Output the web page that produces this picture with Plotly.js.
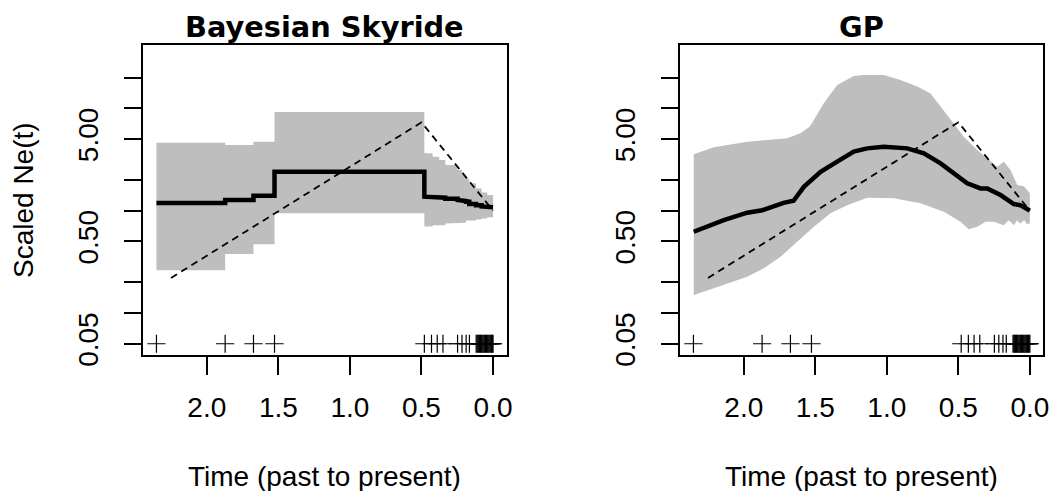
<!DOCTYPE html>
<html>
<head>
<meta charset="utf-8">
<script src="https://cdn.plot.ly/plotly-3.0.1.min.js"></script>
<style>
  html, body { margin: 0; padding: 0; background: #ffffff; }
  #chart { width: 1050px; height: 491px; }
</style>
</head>
<body>
<div id="chart"></div>
<script>
// ---- Bayesian Skyride: piecewise-constant estimate between coalescent times ----
// interval edges (time before present), one value per interval
const skyEdges  = [2.352, 1.872, 1.674, 1.527, 0.480, 0.422, 0.376, 0.334, 0.248, 0.217, 0.189, 0.166, 0.119, 0.080, 0.040, 0];
const skyMedian = [1.19, 1.27, 1.40, 2.40, 1.37, 1.36, 1.34, 1.31, 1.27, 1.24, 1.22, 1.16, 1.13, 1.10, 1.08];
const skyLower  = [0.262, 0.377, 0.469, 0.942, 0.70, 0.72, 0.72, 0.75, 0.75, 0.76, 0.80, 0.80, 0.82, 0.84, 0.86];
const skyUpper  = [4.61, 4.38, 4.72, 9.2, 3.63, 3.37, 3.12, 2.79, 2.49, 2.23, 2.05, 1.85, 1.65, 1.50, 1.42];

// ---- Gaussian process estimate ----
const gpTime   = [2.350, 2.140, 1.976, 1.871, 1.722, 1.652, 1.580, 1.463, 1.347, 1.231, 1.137, 1.021, 0.857, 0.741, 0.624, 0.531, 0.438, 0.345, 0.298, 0.205, 0.112, 0.065, 0];
const gpMedian = [0.622, 0.809, 0.955, 1.01, 1.19, 1.25, 1.71, 2.40, 3.01, 3.77, 4.06, 4.21, 4.06, 3.63, 2.90, 2.32, 1.85, 1.65, 1.65, 1.42, 1.16, 1.13, 1.00];
const gpUpperTime = [2.350, 2.210, 1.976, 1.697, 1.604, 1.540, 1.510, 1.441, 1.347, 1.231, 1.161, 1.021, 0.904, 0.787, 0.694, 0.624, 0.555, 0.462, 0.368, 0.298, 0.228, 0.182, 0.135, 0.088, 0.042, 0];
const gpUpper     = [3.55, 4.16, 4.72, 5.09, 5.70, 6.60, 7.69, 11.2, 16.9, 20.7, 21.2, 21.2, 18.9, 16.3, 14.0, 10.4, 7.69, 5.27, 3.91, 3.24, 2.69, 3.01, 2.49, 1.78, 1.73, 1.48];
const gpLowerTime = [2.350, 2.210, 1.976, 1.860, 1.743, 1.627, 1.510, 1.394, 1.277, 1.137, 0.951, 0.764, 0.601, 0.485, 0.427, 0.368, 0.310, 0.252, 0.182, 0.150, 0.135, 0.112, 0.090, 0.065, 0.040, 0.020, 0];
const gpLower     = [0.150, 0.174, 0.226, 0.273, 0.354, 0.497, 0.697, 0.942, 1.13, 1.34, 1.32, 1.18, 0.975, 0.78, 0.656, 0.697, 0.78, 0.78, 0.72, 0.80, 0.78, 0.72, 0.80, 0.75, 0.81, 0.74, 0.75];

// ---- true effective population size trajectory ----
const trueTime = [2.25, 0.5, 0];
const trueNe   = [0.22, 7.3, 1.0];

// ---- coalescent times, marked along the bottom ----
const coalTimes = [2.352, 1.872, 1.674, 1.527, 0.480, 0.430, 0.390, 0.350, 0.248, 0.217, 0.188, 0.165,
  0.118, 0.112, 0.106, 0.100, 0.094, 0.088, 0.082, 0.076, 0.070, 0.064, 0.058, 0.052, 0.046,
  0.040, 0.034, 0.028, 0.022, 0.016, 0.010, 0.005, 0];
const markerLevel = 0.05;

// ---- axes ----
const xTickVals = [2.0, 1.5, 1.0, 0.5, 0.0];
const xTickText = ['2.0', '1.5', '1.0', '0.5', '0.0'];
const yTickVals = [0.05, 0.1, 0.2, 0.5, 1, 2, 5, 10, 20];
const yTickText = ['0.05', '', '', '0.50', '', '', '5.00', '', ''];

const panelTitles = ['Bayesian Skyride', 'GP'];
const xTitle = 'Time (past to present)';
const yTitle = 'Scaled Ne(t)';

const BAND = '#BEBEBE';
const W = 1050, H = 491;

// step outline of a piecewise-constant series
function stepPath(edges, vals) {
  const xs = [], ys = [];
  for (let i = 0; i < vals.length; i++) {
    xs.push(edges[i], edges[i + 1]);
    ys.push(vals[i], vals[i]);
  }
  return {xs, ys};
}

function bandTrace(xU, yU, xL, yL, xa, ya) {
  return {
    x: xU.concat(xL.slice().reverse()),
    y: yU.concat(yL.slice().reverse()),
    xaxis: xa, yaxis: ya, type: 'scatter', mode: 'lines',
    fill: 'toself', fillcolor: BAND, line: {width: 0, color: BAND},
    hoverinfo: 'skip', showlegend: false
  };
}
function lineTrace(x, y, xa, ya, width, dash) {
  return {
    x, y, xaxis: xa, yaxis: ya, type: 'scatter', mode: 'lines',
    line: {color: '#000', width: width, dash: dash || 'solid'},
    hoverinfo: 'skip', showlegend: false
  };
}
function markTrace(xa, ya) {
  return {
    x: coalTimes, y: coalTimes.map(() => markerLevel),
    xaxis: xa, yaxis: ya, type: 'scatter', mode: 'markers',
    marker: {symbol: 'cross-thin', size: 13, color: '#000', line: {width: 1.2, color: '#000'}},
    hoverinfo: 'skip', showlegend: false
  };
}

const up = stepPath(skyEdges, skyUpper);
const lo = stepPath(skyEdges, skyLower);
const md = stepPath(skyEdges, skyMedian);

const traces = [
  bandTrace(up.xs, up.ys, lo.xs, lo.ys, 'x', 'y'),
  lineTrace(md.xs, md.ys, 'x', 'y', 4.5),
  lineTrace(trueTime, trueNe, 'x', 'y', 1.8, '7px,5px'),
  markTrace('x', 'y'),
  bandTrace(gpUpperTime, gpUpper, gpLowerTime, gpLower, 'x2', 'y2'),
  lineTrace(gpTime, gpMedian, 'x2', 'y2', 4.5),
  lineTrace(trueTime, trueNe, 'x2', 'y2', 1.8, '7px,5px'),
  markTrace('x2', 'y2')
];

const tickFont = {family: 'Liberation Sans, Arial, Helvetica, sans-serif', size: 28, color: '#000'};
const titleFont = {family: 'DejaVu Sans, Liberation Sans, sans-serif', size: 28.8, color: '#000', weight: 'bold'};

const box = {top: 45, bottom: 355};
const panels = [{left: 143, right: 506.5}, {left: 680, right: 1043.3}];
const yDomain = [1 - box.bottom / H, 1 - box.top / H];

function xAxis(p, anchor) {
  return {
    domain: [p.left / W, p.right / W], anchor: anchor,
    range: [2.446, -0.094],
    tickmode: 'array', tickvals: xTickVals, ticktext: xTickText,
    ticks: 'outside', ticklen: 18, tickwidth: 2, tickcolor: '#000',
    ticklabelstandoff: 8,
    showline: true, mirror: true, linecolor: '#000', linewidth: 2,
    showgrid: false, zeroline: false, tickfont: tickFont, fixedrange: true
  };
}
function yAxis(anchor) {
  return {
    domain: yDomain, anchor: anchor, type: 'log',
    range: [-1.411, 1.619],
    tickmode: 'array', tickvals: yTickVals, ticktext: yTickText, tickangle: -90,
    ticks: 'outside', ticklen: 17, tickwidth: 2, tickcolor: '#000',
    ticklabelstandoff: 15,
    showline: true, mirror: true, linecolor: '#000', linewidth: 2,
    showgrid: false, zeroline: false, tickfont: tickFont, fixedrange: true
  };
}

const annotations = [];
panels.forEach((p, i) => {
  const cx = (p.left + p.right) / 2 / W;
  annotations.push({
    text: panelTitles[i], x: cx, y: 1 - 27 / H, xref: 'paper', yref: 'paper',
    xanchor: 'center', yanchor: 'middle', showarrow: false, font: titleFont
  });
  annotations.push({
    text: xTitle, x: cx, y: 1 - 476 / H, xref: 'paper', yref: 'paper',
    xanchor: 'center', yanchor: 'middle', showarrow: false, font: tickFont
  });
});
annotations.push({
  text: yTitle, x: 23 / W, y: 1 - 200 / H, xref: 'paper', yref: 'paper',
  xanchor: 'center', yanchor: 'middle', textangle: -90, showarrow: false, font: tickFont
});

const layout = {
  width: W, height: H,
  margin: {l: 0, r: 0, t: 0, b: 0},
  paper_bgcolor: '#ffffff', plot_bgcolor: '#ffffff',
  showlegend: false,
  xaxis: xAxis(panels[0], 'y'),
  yaxis: yAxis('x'),
  xaxis2: xAxis(panels[1], 'y2'),
  yaxis2: yAxis('x2'),
  annotations: annotations
};

Plotly.newPlot('chart', traces, layout, {displayModeBar: false, staticPlot: true});
</script>
</body>
</html>
